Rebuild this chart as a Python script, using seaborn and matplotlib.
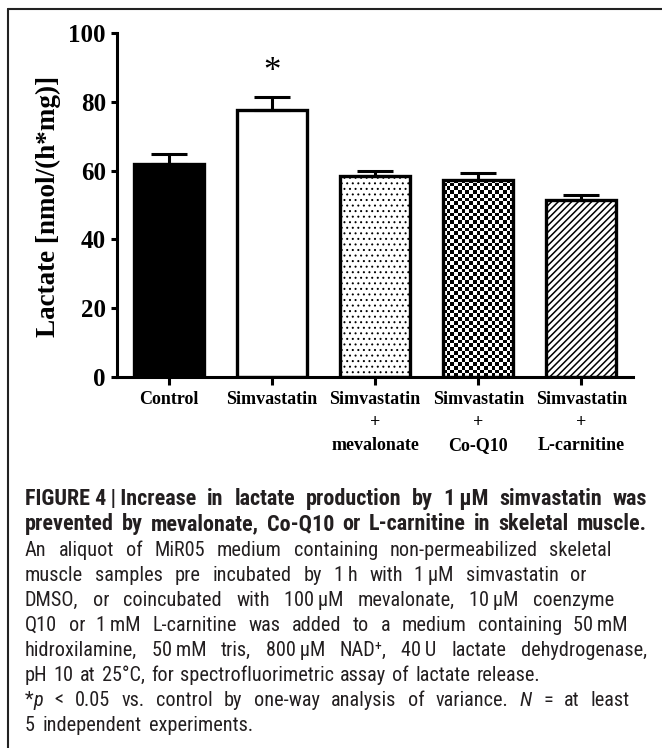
import re
import numpy as np
import pandas as pd
import matplotlib
matplotlib.use("Agg")
import matplotlib.pyplot as plt
import seaborn as sns
from matplotlib.lines import Line2D

# ---------------- data ----------------
categories = ["Control", "Simvastatin", "Simvastatin\n+\nmevalonate",
              "Simvastatin\n+\nCo-Q10", "Simvastatin\n+\nL-carnitine"]
lactate_mean = [62.0, 77.5, 58.5, 57.3, 51.5]
lactate_sem = [2.9, 4.0, 1.4, 2.0, 1.4]
significance = ["", "*", "", "", ""]
y_ticks = [0, 20, 40, 60, 80, 100]
y_label = "Lactate [nmol/(h*mg)]"

# caption text: '~' = thin fixed space, '_' = normal fixed space, {..} = italic
caption_lines = [
    "FIGURE_4~|~Increase in lactate production by 1~\u03bcM simvastatin was",
    "prevented by mevalonate, Co-Q10 or L-carnitine in skeletal muscle.",
    "An aliquot of MiR05 medium containing non-permeabilized skeletal",
    "muscle samples pre incubated by 1~h with 1~\u03bcM simvastatin or",
    "DMSO, or coincubated with 100~\u03bcM mevalonate, 10~\u03bcM coenzyme",
    "Q10 or 1~mM L-carnitine was added to a medium containing 50~mM",
    "hidroxilamine, 50~mM tris, 800~\u03bcM NAD\u207a, 40~U lactate dehydrogenase,",
    "pH 10 at 25\u00b0C, for spectrofluorimetric assay of lactate release.",
    "*{p} < 0.05 vs. control by one-way analysis of variance. {N} = at least",
    "5 independent experiments.",
]
caption_bold = [True, True, False, False, False, False, False, False, False, False]

# ---------------- style ----------------
W, H = 662, 748
sns.set_style("ticks")
plt.rcParams["font.family"] = ["Liberation Serif", "DejaVu Serif"]
plt.rcParams["axes.edgecolor"] = "black"

bar_fill = ["black", "white", "white", "white", "white"]

fig = plt.figure(figsize=(W / 100, H / 100), dpi=100)
ax = fig.add_axes([117 / W, 1 - 377 / H, 516 / W, 344 / H])

df = pd.DataFrame({"group": categories, "lactate": lactate_mean})
sns.barplot(data=df, x="group", y="lactate", hue="group", order=categories,
            hue_order=categories, palette=bar_fill, legend=False, width=0.68,
            edgecolor="black", linewidth=2.4, errorbar=None, ax=ax, zorder=2)

ax.set_xlim(-0.5, len(categories) - 0.5)
ax.set_ylim(0, 100)
ax.set_yticks(y_ticks)

bars = list(ax.patches)
centers = [b.get_x() + b.get_width() / 2 for b in bars]

# hatches
bars[2].set_hatch("...")
bars[4].set_hatch("/////")
for b, lw in ((bars[2], 0.7), (bars[4], 1.1)):
    if hasattr(b, "set_hatch_linewidth"):
        b.set_hatch_linewidth(lw)

# checkerboard fill for Co-Q10 bar
cb = bars[3]
cb.set_facecolor("none")
x0, y0, bw, bh = cb.get_x(), cb.get_y(), cb.get_width(), cb.get_height()
p0, p1 = ax.transData.transform([[x0, y0], [x0 + bw, y0 + bh]])
cell = 3.7
ncol = max(1, int(round(abs(p1[0] - p0[0]) / cell)))
nrow = max(1, int(round(abs(p1[1] - p0[1]) / cell)))
ii, jj = np.meshgrid(np.arange(ncol), np.arange(nrow))
checker = ((ii + jj) % 2).astype(float)
im = ax.imshow(checker, extent=(x0, x0 + bw, y0, y0 + bh), cmap="gray_r",
               origin="upper", interpolation="nearest", aspect="auto",
               zorder=1.9, vmin=0, vmax=1)
im.set_clip_path(cb)
ax.set_xlim(-0.5, len(categories) - 0.5)
ax.set_ylim(0, 100)

# error bars (upper only)
ax.errorbar(centers, lactate_mean, yerr=[np.zeros(len(lactate_sem)), lactate_sem],
            fmt="none", ecolor="black", elinewidth=2.2, capsize=13, capthick=2.2,
            zorder=3)

# significance marks
for c, m, s, sig in zip(centers, lactate_mean, lactate_sem, significance):
    if sig:
        ax.text(c, m + s + 7.0, sig, ha="center", va="center", fontsize=25,
                color="black", family=["Liberation Serif"])

# axes styling
for side in ("top", "right"):
    ax.spines[side].set_visible(False)
for side in ("left", "bottom"):
    ax.spines[side].set_linewidth(2.2)
    ax.spines[side].set_color("black")
ax.tick_params(axis="y", length=4.5, width=2.2, pad=3.5, labelsize=18, colors="black")
ax.tick_params(axis="x", length=6, width=2.2, pad=4, labelsize=13, colors="black")
for lbl in ax.get_yticklabels():
    lbl.set_fontweight("bold")
for lbl in ax.get_xticklabels():
    lbl.set_fontweight("bold")
    lbl.set_linespacing(1.45)
ax.set_xlabel("")
ax.set_ylabel(y_label, fontsize=19.5, fontweight="bold", color="black")
ax.yaxis.set_label_coords(-0.1085, 0.497)

# frame lines of the figure panel
fig.add_artist(Line2D([8 / W, 1.0], [1 - 9 / H, 1 - 9 / H], transform=fig.transFigure,
                      color="#222222", lw=1.5))
fig.add_artist(Line2D([8 / W, 8 / W], [0.0, 1 - 9 / H], transform=fig.transFigure,
                      color="#222222", lw=1.5))

# ---------------- caption (justified word placement) ----------------
cap_font = ["Liberation Sans Narrow", "Roboto Condensed", "Liberation Sans", "DejaVu Sans"]
cap_color = "#231f20"
left_px = 25
right_px = [647, 647, 612, 587, 614, 628, 647, 540, 630, 262]
baseline_px = [505, 530, 556, 581, 606, 631, 656, 681, 706, 731]
natural_last = True

renderer = fig.canvas.get_renderer()


def parse_words(line):
    words = []
    for w in line.split(" "):
        segs = []
        for part in re.split(r"(\{[^}]*\})", w):
            if not part:
                continue
            if part.startswith("{"):
                segs.append((part[1:-1], "italic"))
            else:
                segs.append((part.replace("~", "\u2009").replace("_", " "), "normal"))
        words.append(segs)
    return words


def build(fs_body, fs_bold):
    all_lines = []
    for line, bold in zip(caption_lines, caption_bold):
        fs = fs_bold if bold else fs_body
        wlist = []
        for segs in parse_words(line):
            objs = []
            for txt, style in segs:
                t = fig.text(0, 0, txt, fontsize=fs, family=cap_font,
                             fontweight="bold" if bold else "normal",
                             fontstyle=style, color=cap_color, va="baseline", ha="left")
                objs.append(t)
            wlist.append(objs)
        all_lines.append((wlist, fs))
    return all_lines


def widths(all_lines):
    out = []
    for wlist, fs in all_lines:
        ws = []
        for objs in wlist:
            ws.append([o.get_window_extent(renderer).width for o in objs])
        out.append(ws)
    return out


def fit_factor(all_lines, ws, idx, space_em):
    k = np.inf
    for i in idx:
        (wlist, fs), w = all_lines[i], ws[i]
        total = sum(sum(x) for x in w)
        n = len(w)
        need = total + (n - 1) * space_em * fs * 100 / 72
        k = min(k, (right_px[i] - left_px) / need)
    return k


fs_body, fs_bold = 13.0, 13.5
body_space_em = 0.32
lines = build(fs_body, fs_bold)
ws = widths(lines)
k_bold = fit_factor(lines, ws, [0, 1], 0.36)
k_body = fit_factor(lines, ws, list(range(2, 9)), body_space_em)
for wlist, fs in lines:
    for objs in wlist:
        for o in objs:
            o.remove()
lines = build(fs_body * k_body, fs_bold * k_bold)
ws = widths(lines)

for i, ((wlist, fs), w) in enumerate(zip(lines, ws)):
    totals = [sum(x) for x in w]
    n = len(w)
    avail = right_px[i] - left_px
    gap = (avail - sum(totals)) / (n - 1) if n > 1 else 0
    if natural_last and i == len(lines) - 1:
        gap = min(gap, body_space_em * 1.15 * fs * 100 / 72)
    x = left_px
    yb = 1 - baseline_px[i] / H
    for objs, segw in zip(wlist, w):
        xx = x
        for o, sw in zip(objs, segw):
            o.set_position((xx / W, yb))
            xx += sw
        x += sum(segw) + gap

fig.savefig("out.png", dpi=100, facecolor="white")
